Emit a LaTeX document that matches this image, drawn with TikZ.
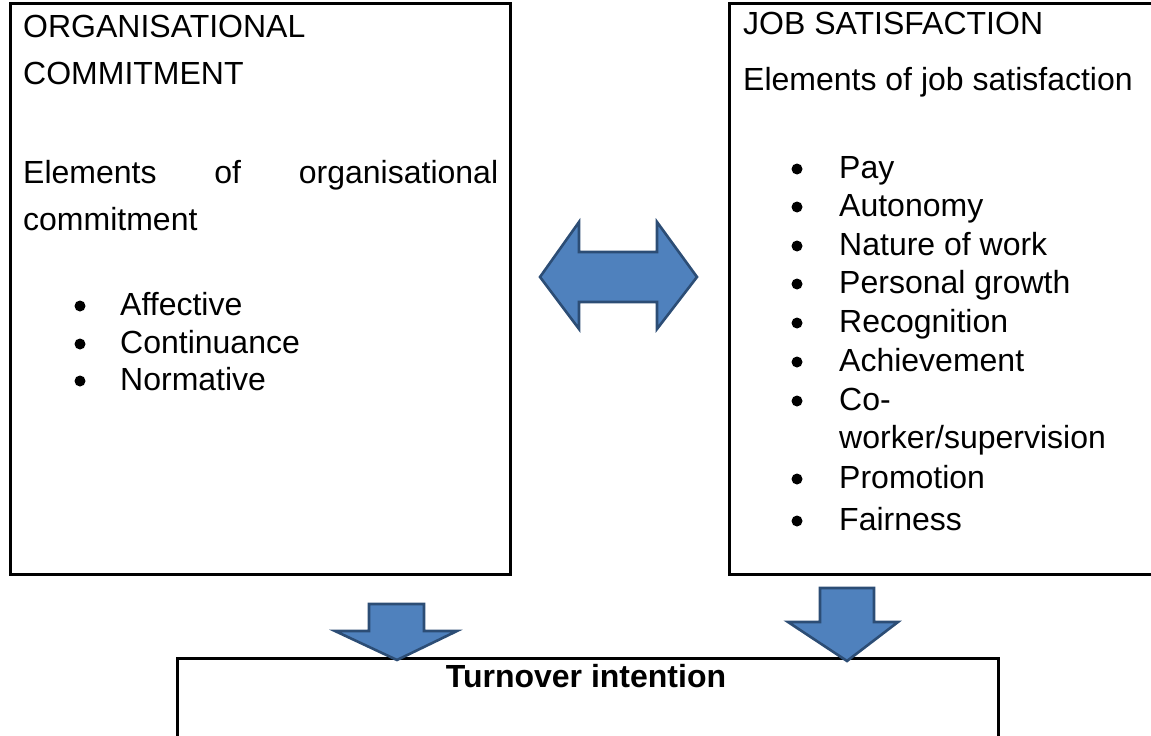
\documentclass[tikz,border=0pt]{standalone}
\usepackage{fontspec}
\setmainfont{Liberation Sans}
\definecolor{arrowfill}{HTML}{4F81BD}
\definecolor{arrowedge}{HTML}{2C4D75}
\begin{document}
\begin{tikzpicture}[x=1pt,y=-1pt,
  box/.style={draw=black,line width=2.6pt,fill=none,inner sep=0pt},
  txt/.style={anchor=base west,inner sep=0pt,font=\fontsize{32}{38}\selectfont},
  bul/.style={circle,fill=black,inner sep=0pt,minimum size=11pt},
  blockarrow/.style={fill=arrowfill,draw=arrowedge,line width=2.6pt,line join=miter}]
\useasboundingbox (0,0) rectangle (1151,736);
% boxes
\node[box,minimum width=500pt,minimum height=571pt,anchor=north west] (oc) at (9,2) {};
\node[box,minimum width=440pt,minimum height=571pt,anchor=north west] (js) at (728,2) {};
\node[box,minimum width=821pt,minimum height=100pt,anchor=north west] (ti) at (176,657) {};
% left texts
\node[txt] (oc1) at (23,37) {ORGANISATIONAL};
\node[txt] (oc2) at (23,84) {COMMITMENT};
\node[txt] (oc3) at (23,183) {\hbox to 475pt{Elements\hfill of\hfill organisational}};
\node[txt] (oc4) at (23,230) {commitment};
\foreach \t/\y [count=\i] in {Affective/315,Continuance/353,Normative/390}{
  \node[bul] (ocb\i) at (80,\y-9) {};
  \node[txt] (oci\i) at (120,\y) {\t};
}
% right texts
\node[txt] (js1) at (743,34) {JOB SATISFACTION};
\node[txt] (js2) at (743,90) {Elements of job satisfaction};
\foreach \t/\y [count=\i] in {Pay/178,Autonomy/216,Nature of work/255,Personal growth/293,Recognition/332,Achievement/371,Co-/410,Promotion/488,Fairness/530}{
  \node[txt] (jsi\i) at (839,\y) {\t};
  \node[bul] (jsb\i) at (797,\y-9) {};
}
\node[txt] (jsi10) at (839,448) {worker/supervision};
% bottom text
\node[anchor=base,inner sep=0pt,font=\bfseries\fontsize{32}{38}\selectfont] (tit) at (586,687) {Turnover intention};
% double arrow
\draw[blockarrow] (540,277) -- (579,222) -- (579,252) -- (657,252) -- (657,222) -- (697,277)
  -- (657,329) -- (657,302) -- (579,302) -- (579,329) -- cycle;
% down arrows
\draw[blockarrow] (369,604) -- (424,604) -- (424,631) -- (457,631) -- (397,660) -- (335,631) -- (369,631) -- cycle;
\draw[blockarrow] (820,588) -- (874,588) -- (874,622) -- (898,622) -- (847,661) -- (788,622) -- (820,622) -- cycle;
\end{tikzpicture}
\end{document}
